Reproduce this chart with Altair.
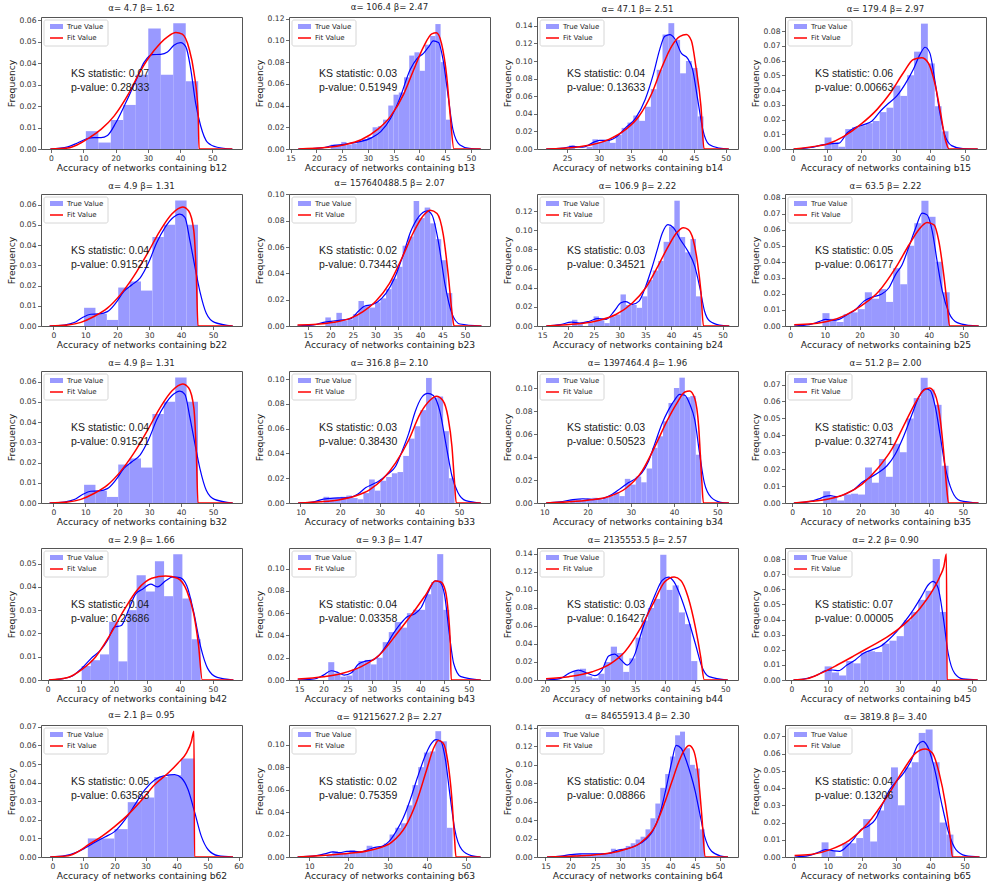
import altair as alt
import pandas as pd

HIST_COLOR = "#9999ff"
KDE_COLOR = "#0000ff"
FIT_COLOR = "#ff0000"

# ---------------------------------------------------------------------------
# Per-feature data: histogram (first bin edge, bin width, bar heights),
# kernel-density curve and fitted-distribution curve as (x, density) points.
# ---------------------------------------------------------------------------
B12_BINS = (10.8, 3.87)
B12_HIST = [0.0083, 0.0030, 0.0135, 0.0205, 0.0345, 0.0560, 0.0345, 0.0585, 0.0315]
B12_KDE = [(-0.2, 0), (5.2, 0.001), (8.2, 0.0028), (11.3, 0.0049), (13.4, 0.0053), (15.5, 0.0053),
           (17.5, 0.0063), (20.1, 0.0122), (23.2, 0.0216), (26.3, 0.0318), (28.9, 0.0404), (31.4, 0.0439),
           (34.0, 0.044), (36.1, 0.0451), (38.1, 0.0483), (40.2, 0.0495), (41.8, 0.0475), (43.3, 0.0373),
           (44.8, 0.0216), (46.4, 0.0107), (48.5, 0.0031), (51.5, 0.0008), (56.2, 0)]
B12_FIT = [(-0.2, 0), (5.2, 0.0005), (8.2, 0.002), (11.3, 0.0047), (15.5, 0.0091), (19.6, 0.0154),
           (23.7, 0.0248), (27.8, 0.0365), (32.0, 0.0459), (36.1, 0.0522), (38.7, 0.0542), (40.7, 0.0534),
           (42.8, 0.0467), (44.3, 0.0357), (45.6, 0.017), (45.9, 0), (56.2, 0)]

B13_BINS = (22.8, 1.015)
B13_HIST = [0.004, 0.004, 0.0065, 0.004, 0.005, 0.0065, 0.009, 0.011, 0.020, 0.021, 0.027, 0.040,
            0.050, 0.052, 0.066, 0.086, 0.089, 0.072, 0.096, 0.104, 0.115, 0.080, 0.027]
B13_KDE = [(16.5, 0), (21.1, 0.001), (23.0, 0.003), (24.9, 0.004), (26.8, 0.0055), (28.7, 0.007),
           (30.6, 0.010), (32.5, 0.016), (34.4, 0.028), (36.3, 0.048), (38.2, 0.073), (39.5, 0.083),
           (40.8, 0.088), (41.8, 0.094), (42.7, 0.0995), (43.7, 0.098), (44.6, 0.082), (45.6, 0.048),
           (46.5, 0.018), (47.8, 0.004), (49.7, 0.0006), (51.9, 0)]
B13_FIT = [(16.5, 0), (22.3, 0.0015), (25.5, 0.004), (28.7, 0.0085), (31.9, 0.018), (34.4, 0.030),
           (37.0, 0.051), (38.9, 0.073), (40.8, 0.094), (42.4, 0.106), (43.3, 0.107), (44.3, 0.097),
           (45.3, 0.067), (46.0, 0.030), (46.7, 0), (51.9, 0)]

B14_BINS = (25.3, 0.922)
B14_HIST = [0.004, 0.0, 0.0, 0.0025, 0.011, 0.008, 0.010, 0.007, 0.016, 0.024, 0.030, 0.038,
            0.032, 0.048, 0.068, 0.090, 0.130, 0.143, 0.124, 0.086, 0.100, 0.092, 0.037]
B14_KDE = [(21.7, 0), (24.4, 0.001), (25.9, 0.003), (27.5, 0.002), (29.0, 0.007), (30.1, 0.0099),
           (31.6, 0.0099), (32.9, 0.0144), (34.2, 0.024), (35.8, 0.035), (37.3, 0.056), (38.6, 0.085),
           (39.6, 0.113), (40.4, 0.128), (41.2, 0.130), (42.0, 0.125), (43.0, 0.109), (44.0, 0.103),
           (44.8, 0.090), (45.6, 0.056), (46.4, 0.022), (47.4, 0.005), (49.0, 0.001), (50.5, 0)]
B14_FIT = [(21.7, 0), (26.4, 0.002), (29.0, 0.005), (31.6, 0.011), (34.2, 0.022), (36.3, 0.037),
           (38.4, 0.064), (39.9, 0.092), (41.5, 0.117), (42.8, 0.128), (43.8, 0.130), (44.6, 0.123),
           (45.3, 0.094), (46.1, 0.049), (46.6, 0), (50.5, 0)]

B15_BINS = (9.3, 2.0)
B15_HIST = [0.0078, 0.0045, 0.0015, 0.0135, 0.0148, 0.016, 0.0175, 0.019, 0.025, 0.028, 0.043,
            0.036, 0.050, 0.066, 0.085, 0.058, 0.029, 0.012]
B15_KDE = [(0.3, 0), (5.3, 0.001), (9.1, 0.003), (11.5, 0.0036), (13.5, 0.004), (15.9, 0.011),
           (18.3, 0.0147), (20.7, 0.0165), (23.1, 0.019), (25.5, 0.0256), (27.9, 0.031), (30.3, 0.036),
           (32.7, 0.044), (35.1, 0.054), (37.0, 0.064), (38.5, 0.069), (39.9, 0.065), (41.3, 0.047),
           (42.8, 0.0245), (44.2, 0.0097), (46.2, 0.0023), (49.5, 0.0002), (53.8, 0)]
B15_FIT = [(0.3, 0), (5.3, 0.0014), (10.1, 0.0034), (14.9, 0.0086), (19.7, 0.0165), (24.5, 0.0267),
           (28.4, 0.038), (32.2, 0.0517), (35.1, 0.0607), (37.5, 0.0619), (39.4, 0.0585), (41.3, 0.0449),
           (43.0, 0.0245), (44.4, 0.0063), (45.5, 0), (53.8, 0)]

B22_BINS = (9.6, 3.57)
B22_HIST = [0.009, 0.006, 0.003, 0.019, 0.022, 0.0175, 0.044, 0.050, 0.062, 0.050]
B22_KDE = [(-1.2, 0), (3.4, 0.0005), (6.5, 0.0017), (9.1, 0.0042), (11.7, 0.0058), (14.3, 0.006),
           (16.9, 0.0071), (19.5, 0.0113), (22.1, 0.0171), (24.6, 0.0204), (27.2, 0.0238), (29.8, 0.0312),
           (32.4, 0.0412), (35.0, 0.0487), (37.6, 0.0537), (39.6, 0.0553), (41.2, 0.0537), (42.8, 0.042),
           (44.3, 0.0296), (45.9, 0.0171), (47.9, 0.0063), (50.5, 0.0018), (56.2, 0)]
B22_FIT = [(-1.2, 0), (4.5, 0.0005), (8.6, 0.0018), (12.7, 0.0047), (16.9, 0.0088), (21.0, 0.0155),
           (25.2, 0.0246), (29.3, 0.0354), (33.4, 0.047), (37.1, 0.0553), (39.1, 0.058), (40.5, 0.0588),
           (42.4, 0.0568), (44.0, 0.047), (44.8, 0.024), (45.3, 0), (56.2, 0)]

B23_BINS = (18.9, 1.23)
B23_HIST = [0.0065, 0.003, 0.010, 0.004, 0.005, 0.009, 0.019, 0.015, 0.014, 0.018, 0.021, 0.028,
            0.036, 0.045, 0.061, 0.068, 0.095, 0.082, 0.090, 0.078, 0.066, 0.050, 0.025]
B23_KDE = [(12.7, 0), (16.3, 0.0008), (18.5, 0.0028), (20.7, 0.0038), (22.9, 0.0046), (24.7, 0.0058),
           (26.2, 0.011), (27.7, 0.0152), (29.1, 0.016), (30.6, 0.0185), (32.4, 0.0248), (34.3, 0.0362),
           (36.1, 0.0526), (37.9, 0.0716), (39.7, 0.083), (41.6, 0.0875), (42.7, 0.0842), (44.1, 0.064),
           (45.6, 0.031), (47.1, 0.0096), (48.9, 0.0015), (53.7, 0)]
B23_FIT = [(12.7, 0.0008), (17.0, 0.0013), (20.7, 0.0028), (24.4, 0.0058), (27.3, 0.011), (30.2, 0.019),
           (33.2, 0.0324), (36.1, 0.0526), (38.6, 0.0716), (40.8, 0.0842), (42.3, 0.088), (43.8, 0.0855),
           (45.2, 0.069), (46.3, 0.0387), (47.2, 0.0083), (47.6, 0), (53.7, 0)]

B24_BINS = (20.8, 1.045)
B24_HIST = [0.0065, 0.002, 0.0, 0.003, 0.010, 0.006, 0.003, 0.010, 0.012, 0.033, 0.022, 0.022,
            0.019, 0.031, 0.048, 0.058, 0.068, 0.088, 0.104, 0.131, 0.093, 0.077, 0.091, 0.031]
B24_KDE = [(15.8, 0), (18.5, 0.0014), (20.7, 0.004), (22.3, 0.003), (24.2, 0.005), (25.8, 0.0077),
           (27.4, 0.007), (29.0, 0.0157), (30.3, 0.0243), (31.2, 0.0254), (32.5, 0.0226), (33.8, 0.026),
           (35.1, 0.0417), (36.3, 0.0609), (37.3, 0.079), (38.3, 0.097), (39.4, 0.106), (40.5, 0.1026),
           (41.8, 0.0904), (43.3, 0.078), (44.6, 0.0626), (45.6, 0.040), (46.5, 0.0157), (47.5, 0.0052),
           (49.4, 0.001), (51.3, 0)]
B24_FIT = [(15.8, 0), (19.8, 0.0014), (23.0, 0.0028), (26.1, 0.006), (29.3, 0.012), (32.5, 0.024),
           (35.1, 0.040), (37.6, 0.064), (39.5, 0.0835), (41.1, 0.0974), (42.4, 0.1026), (43.3, 0.101),
           (44.3, 0.0904), (45.1, 0.0678), (45.8, 0.0365), (46.3, 0), (51.3, 0)]

B25_BINS = (9.3, 2.04)
B25_HIST = [0.008, 0.0045, 0.0025, 0.0075, 0.0085, 0.0105, 0.021, 0.017, 0.023, 0.015, 0.036,
            0.026, 0.050, 0.064, 0.078, 0.068, 0.040, 0.021]
B25_KDE = [(1.15, 0), (5.5, 0.0008), (8.3, 0.0027), (10.3, 0.0041), (12.2, 0.0035), (14.1, 0.0041),
           (16.5, 0.0072), (18.9, 0.0103), (21.3, 0.0155), (23.7, 0.018), (26.1, 0.0196), (28.5, 0.0238),
           (30.4, 0.032), (32.3, 0.0382), (34.3, 0.0496), (36.2, 0.061), (38.1, 0.0703), (39.5, 0.0692),
           (41.0, 0.0589), (42.4, 0.0403), (43.9, 0.0217), (45.8, 0.0083), (48.2, 0.0021), (51.5, 0.0004),
           (54.4, 0)]
B25_FIT = [(1.15, 0.0008), (6.4, 0.0014), (11.2, 0.0031), (16.0, 0.0068), (20.8, 0.013), (25.6, 0.0217),
           (30.4, 0.0362), (34.3, 0.0506), (37.1, 0.06), (39.5, 0.0645), (41.5, 0.063), (42.9, 0.0527),
           (44.3, 0.032), (45.3, 0.0134), (46.0, 0), (54.4, 0)]

# b32 carries the same sample as b22
B32_BINS = B22_BINS
B32_HIST = list(B22_HIST)
B32_KDE = list(B22_KDE)
B32_FIT = list(B22_FIT)

B33_BINS = (15.8, 1.437)
B33_HIST = [0.005, 0.004, 0.004, 0.005, 0.006, 0.004, 0.003, 0.008, 0.019, 0.010, 0.018, 0.021,
            0.024, 0.025, 0.038, 0.052, 0.062, 0.075, 0.101, 0.085, 0.086, 0.058, 0.020]
B33_KDE = [(9.4, 0), (13.3, 0.001), (15.8, 0.0032), (18.3, 0.004), (20.7, 0.0042), (22.8, 0.0048),
           (24.5, 0.0072), (26.5, 0.0125), (28.2, 0.0151), (29.8, 0.0178), (31.9, 0.023), (34.0, 0.0297),
           (35.6, 0.0417), (37.3, 0.0562), (38.9, 0.0735), (40.6, 0.0854), (42.1, 0.0886), (43.5, 0.0868),
           (45.1, 0.0748), (46.8, 0.0456), (48.2, 0.0218), (49.7, 0.0085), (51.7, 0.0019), (55.5, 0)]
B33_FIT = [(9.4, 0), (15.0, 0.001), (19.9, 0.0027), (24.0, 0.0058), (27.4, 0.0106), (30.7, 0.0191),
           (34.0, 0.0324), (37.3, 0.0509), (40.2, 0.0722), (42.6, 0.0828), (44.3, 0.0862), (45.9, 0.0828),
           (47.2, 0.0695), (48.2, 0.0456), (48.8, 0.019), (49.3, 0), (55.5, 0)]

B34_BINS = (16.0, 1.262)
B34_HIST = [0.003, 0.0035, 0.003, 0.004, 0.0045, 0.003, 0.0045, 0.006, 0.0095, 0.006, 0.021, 0.016,
            0.023, 0.018, 0.030, 0.048, 0.058, 0.071, 0.087, 0.100, 0.109, 0.092, 0.093, 0.042]
B34_KDE = [(10.4, 0), (13.6, 0.001), (16.6, 0.003), (18.9, 0.0037), (21.2, 0.003), (23.5, 0.004),
           (25.7, 0.0077), (27.6, 0.0126), (29.5, 0.0178), (31.1, 0.0212), (32.6, 0.0264), (34.1, 0.0364),
           (35.6, 0.0521), (37.1, 0.0679), (38.7, 0.0808), (40.2, 0.090), (41.3, 0.0945), (42.5, 0.0937),
           (43.6, 0.0865), (44.8, 0.0722), (45.9, 0.0435), (47.0, 0.0178), (48.6, 0.0049), (50.8, 0.0006),
           (52.7, 0)]
B34_FIT = [(10.4, 0), (15.9, 0.001), (20.4, 0.0026), (25.0, 0.0057), (28.8, 0.0126), (32.6, 0.0278),
           (35.6, 0.0493), (38.3, 0.0708), (40.6, 0.0865), (42.5, 0.0965), (43.6, 0.0974), (44.8, 0.0908),
           (45.7, 0.0665), (46.4, 0.0206), (46.8, 0), (52.7, 0)]

B35_BINS = (9.1, 2.04)
B35_HIST = [0.007, 0.0035, 0.0015, 0.005, 0.0055, 0.005, 0.021, 0.012, 0.026, 0.0155, 0.035, 0.030,
            0.050, 0.062, 0.074, 0.067, 0.058, 0.022]
B35_KDE = [(0.5, 0), (4.9, 0.0008), (7.8, 0.0024), (9.7, 0.0039), (11.2, 0.0043), (13.2, 0.0037),
           (15.6, 0.0053), (18.0, 0.0078), (20.5, 0.0122), (22.9, 0.0151), (25.3, 0.018), (27.8, 0.022),
           (30.2, 0.0288), (32.7, 0.0396), (35.1, 0.0523), (37.0, 0.0621), (39.0, 0.0674), (40.4, 0.0666),
           (41.9, 0.0572), (43.4, 0.0396), (44.8, 0.022), (46.8, 0.0073), (49.2, 0.0014), (54.6, 0)]
B35_FIT = [(0.5, 0), (5.8, 0.001), (10.7, 0.0024), (15.6, 0.0053), (20.5, 0.0112), (25.3, 0.021),
           (29.2, 0.0318), (33.1, 0.0474), (36.1, 0.0592), (38.5, 0.0666), (40.3, 0.068), (41.9, 0.0641),
           (43.4, 0.0494), (44.5, 0.0278), (45.4, 0.0063), (45.8, 0), (54.6, 0)]

B42_BINS = (10.3, 2.77)
B42_HIST = [0.006, 0.0085, 0.011, 0.025, 0.008, 0.030, 0.045, 0.038, 0.051, 0.036, 0.054, 0.035, 0.0175]
B42_KDE = [(0.4, 0), (4.7, 0.0006), (7.5, 0.0017), (10.3, 0.005), (13.1, 0.0092), (16.0, 0.0128),
           (18.1, 0.017), (20.2, 0.0227), (22.3, 0.0234), (24.4, 0.0298), (26.6, 0.0369), (28.7, 0.039),
           (31.2, 0.0412), (33.2, 0.040), (35.7, 0.0426), (37.9, 0.0443), (40.0, 0.044), (42.1, 0.0405),
           (44.2, 0.0291), (46.3, 0.0142), (48.4, 0.005), (51.3, 0.0011), (56.2, 0)]
B42_FIT = [(0.4, 0), (6.1, 0.0011), (10.3, 0.0045), (14.5, 0.0099), (18.8, 0.0192), (23.0, 0.0298),
           (27.3, 0.039), (31.5, 0.0437), (35.7, 0.0447), (39.3, 0.0437), (42.1, 0.0383), (44.2, 0.0284),
           (45.6, 0.0156), (46.8, 0), (56.2, 0)]

B43_BINS = (21.0, 1.25)
B43_HIST = [0.016, 0.006, 0.003, 0.004, 0.010, 0.017, 0.018, 0.014, 0.020, 0.034, 0.043, 0.052,
            0.047, 0.060, 0.063, 0.063, 0.077, 0.088, 0.113, 0.063]
B43_KDE = [(14.7, 0), (18.1, 0.0009), (20.0, 0.0044), (21.6, 0.0083), (23.1, 0.0065), (24.3, 0.0044),
           (25.8, 0.0065), (27.2, 0.0142), (28.7, 0.0169), (30.1, 0.0178), (31.5, 0.0222), (33.0, 0.0311),
           (34.4, 0.0414), (35.9, 0.0503), (37.3, 0.0568), (38.8, 0.0592), (40.2, 0.0651), (41.6, 0.0784),
           (43.1, 0.089), (44.0, 0.088), (45.0, 0.0769), (46.0, 0.0414), (46.9, 0.0148), (48.4, 0.003),
           (52.5, 0)]
B43_FIT = [(14.7, 0.0009), (20.0, 0.003), (23.8, 0.0059), (27.7, 0.0118), (31.5, 0.0222), (35.4, 0.0429),
           (38.3, 0.0592), (41.2, 0.0769), (43.1, 0.0888), (44.2, 0.0882), (45.2, 0.0799), (45.8, 0.0592),
           (46.2, 0.0325), (46.4, 0), (52.5, 0)]

B44_BINS = (24.8, 1.027)
B44_HIST = [0.010, 0.0125, 0.004, 0.002, 0.007, 0.020, 0.037, 0.030, 0.009, 0.024, 0.047, 0.066,
            0.080, 0.090, 0.139, 0.100, 0.105, 0.075, 0.062, 0.021]
B44_KDE = [(20.2, 0), (22.5, 0.0015), (24.0, 0.0074), (25.6, 0.011), (27.1, 0.0074), (28.3, 0.0048),
           (29.5, 0.011), (30.6, 0.0265), (31.6, 0.0287), (32.7, 0.0221), (33.7, 0.0166), (34.9, 0.0276),
           (36.0, 0.0516), (37.2, 0.0755), (38.4, 0.0958), (39.5, 0.1105), (40.5, 0.1142), (41.5, 0.1087),
           (42.6, 0.0921), (43.8, 0.0682), (45.0, 0.0405), (46.1, 0.0147), (47.3, 0.0037), (50.4, 0)]
B44_FIT = [(20.2, 0.0015), (24.0, 0.0037), (27.9, 0.0092), (31.0, 0.0184), (33.3, 0.0313), (35.7, 0.0553),
           (38.0, 0.0847), (39.9, 0.1087), (41.5, 0.1142), (42.6, 0.1105), (43.8, 0.0921), (45.0, 0.059),
           (45.9, 0.0258), (46.5, 0), (50.4, 0)]

B45_BINS = (9.2, 2.0)
B45_HIST = [0.009, 0.005, 0.003, 0.0125, 0.011, 0.018, 0.019, 0.0185, 0.024, 0.026, 0.029, 0.0395,
            0.045, 0.053, 0.059, 0.080, 0.045]
B45_KDE = [(0.55, 0), (4.4, 0.0011), (7.2, 0.0033), (9.5, 0.0062), (11.3, 0.0066), (13.1, 0.0062),
           (15.4, 0.0099), (17.7, 0.0133), (20.0, 0.0177), (22.3, 0.0199), (24.6, 0.0221), (26.9, 0.0265),
           (29.2, 0.032), (31.5, 0.0387), (33.8, 0.0464), (36.1, 0.0553), (38.0, 0.063), (39.3, 0.0652),
           (40.7, 0.0608), (42.1, 0.042), (43.5, 0.0177), (45.3, 0.0044), (47.6, 0.0007), (51.7, 0)]
B45_FIT = [(0.55, 0), (4.4, 0.0009), (8.1, 0.0044), (12.7, 0.0099), (17.3, 0.0159), (21.9, 0.0221),
           (26.5, 0.0283), (31.1, 0.0365), (35.7, 0.0475), (39.3, 0.0597), (41.2, 0.0685), (42.3, 0.0751),
           (43.0, 0.0833), (43.2, 0), (51.7, 0)]

B62_BINS = (11.4, 4.29)
B62_HIST = [0.010, 0.010, 0.015, 0.0295, 0.032, 0.043, 0.044, 0.053]
B62_KDE = [(-0.75, 0), (4.1, 0.0007), (7.3, 0.0022), (10.5, 0.0048), (13.7, 0.0079), (16.9, 0.0108),
           (20.1, 0.0138), (23.4, 0.0201), (26.6, 0.0282), (29.8, 0.0363), (33.0, 0.0416), (36.2, 0.0438),
           (39.4, 0.0443), (41.6, 0.0425), (43.7, 0.0363), (45.9, 0.0237), (48.0, 0.0111), (50.2, 0.0039),
           (53.4, 0.0007), (58.2, 0)]
B62_FIT = [(-0.75, 0), (5.1, 0.0007), (8.4, 0.003), (11.6, 0.0066), (15.9, 0.0111), (20.1, 0.0165),
           (24.4, 0.0228), (28.7, 0.0305), (33.0, 0.039), (37.3, 0.0452), (40.5, 0.0506), (43.2, 0.056),
           (44.8, 0.0623), (45.6, 0.0677), (45.8, 0), (58.2, 0)]

B63_BINS = (14.4, 1.465)
B63_HIST = [0.002, 0.005, 0.004, 0.003, 0.006, 0.005, 0.005, 0.010, 0.007, 0.009, 0.012, 0.020,
            0.026, 0.030, 0.046, 0.064, 0.080, 0.093, 0.094, 0.112, 0.103, 0.026]
B63_KDE = [(7.0, 0), (11.8, 0.0012), (14.2, 0.003), (16.0, 0.0045), (17.8, 0.0039), (19.6, 0.005),
           (21.4, 0.005), (23.2, 0.0045), (25.0, 0.0065), (26.8, 0.0086), (28.6, 0.0095), (30.4, 0.0139),
           (32.2, 0.0228), (34.0, 0.0347), (35.8, 0.051), (37.6, 0.0703), (39.4, 0.0881), (41.0, 0.100),
           (42.4, 0.1044), (43.6, 0.103), (44.8, 0.0866), (46.0, 0.054), (47.2, 0.0243), (49.0, 0.0065),
           (51.4, 0.0012), (53.8, 0)]
B63_FIT = [(7.0, 0), (14.2, 0.0015), (20.2, 0.0033), (26.2, 0.0065), (31.0, 0.013), (34.6, 0.0273),
           (37.6, 0.051), (40.0, 0.0777), (41.8, 0.097), (43.0, 0.1038), (44.2, 0.1015), (45.4, 0.0852),
           (46.4, 0.054), (47.1, 0.0184), (47.5, 0), (53.8, 0)]

B64_BINS = (20.2, 0.99)
B64_HIST = [0.003, 0.003, 0.002, 0.002, 0.003, 0.002, 0.004, 0.003, 0.009, 0.007, 0.009, 0.012,
            0.015, 0.019, 0.022, 0.030, 0.042, 0.058, 0.075, 0.090, 0.109, 0.132, 0.136, 0.118,
            0.100, 0.096, 0.030]
B64_KDE = [(15.3, 0), (18.1, 0.001), (20.0, 0.0025), (21.9, 0.0033), (24.7, 0.0033), (27.5, 0.0036),
           (29.4, 0.0073), (31.3, 0.0088), (33.2, 0.0124), (35.1, 0.019), (36.5, 0.0281), (37.9, 0.0463),
           (39.3, 0.0773), (40.3, 0.1028), (41.2, 0.121), (42.2, 0.118), (43.1, 0.1065), (44.1, 0.090),
           (45.0, 0.0718), (45.9, 0.0481), (46.9, 0.0226), (48.3, 0.0062), (50.2, 0.001), (51.6, 0)]
B64_FIT = [(15.3, 0), (20.9, 0.001), (25.7, 0.0026), (30.4, 0.0073), (34.2, 0.016), (37.0, 0.0335),
           (38.9, 0.059), (40.3, 0.081), (41.7, 0.1028), (42.8, 0.1156), (43.8, 0.121), (44.7, 0.1156),
           (45.7, 0.0846), (46.4, 0.0408), (47.0, 0), (51.6, 0)]

B65_BINS = (8.2, 2.03)
B65_HIST = [0.0085, 0.0035, 0.0005, 0.008, 0.008, 0.011, 0.022, 0.009, 0.027, 0.036, 0.052, 0.030,
            0.052, 0.055, 0.072, 0.074, 0.055, 0.020, 0.013]
B65_KDE = [(0.3, 0), (4.4, 0.0008), (7.2, 0.0027), (9.3, 0.0043), (11.4, 0.0037), (13.5, 0.0033),
           (15.6, 0.0062), (17.6, 0.0104), (19.7, 0.0159), (21.8, 0.0178), (23.9, 0.0217), (26.0, 0.0304),
           (28.1, 0.039), (30.1, 0.0439), (32.2, 0.0487), (34.3, 0.0555), (36.4, 0.0652), (37.8, 0.0671),
           (39.2, 0.0642), (41.3, 0.0507), (43.3, 0.0313), (45.4, 0.0139), (47.5, 0.0043), (50.3, 0.0008),
           (54.4, 0)]
B65_FIT = [(0.3, 0.0008), (5.1, 0.0014), (10.7, 0.0043), (16.3, 0.0097), (21.8, 0.0197), (27.4, 0.0352),
           (32.2, 0.0507), (35.7, 0.0603), (38.5, 0.0627), (40.6, 0.0603), (42.6, 0.0487), (44.4, 0.0313),
           (45.8, 0.012), (46.5, 0), (54.4, 0)]

# Fitted parameters and goodness-of-fit per feature
ALPHA_BETA = {
    "b12": "α= 4.7 β= 1.62", "b13": "α= 106.4 β= 2.47", "b14": "α= 47.1 β= 2.51", "b15": "α= 179.4 β= 2.97",
    "b22": "α= 4.9 β= 1.31", "b23": "α= 157640488.5 β= 2.07", "b24": "α= 106.9 β= 2.22", "b25": "α= 63.5 β= 2.22",
    "b32": "α= 4.9 β= 1.31", "b33": "α= 316.8 β= 2.10", "b34": "α= 1397464.4 β= 1.96", "b35": "α= 51.2 β= 2.00",
    "b42": "α= 2.9 β= 1.66", "b43": "α= 9.3 β= 1.47", "b44": "α= 2135553.5 β= 2.57", "b45": "α= 2.2 β= 0.90",
    "b62": "α= 2.1 β= 0.95", "b63": "α= 91215627.2 β= 2.27", "b64": "α= 84655913.4 β= 2.30", "b65": "α= 3819.8 β= 3.40",
}
KS_STAT = {
    "b12": "0.07", "b13": "0.03", "b14": "0.04", "b15": "0.06",
    "b22": "0.04", "b23": "0.02", "b24": "0.03", "b25": "0.05",
    "b32": "0.04", "b33": "0.03", "b34": "0.03", "b35": "0.03",
    "b42": "0.04", "b43": "0.04", "b44": "0.03", "b45": "0.07",
    "b62": "0.05", "b63": "0.02", "b64": "0.04", "b65": "0.04",
}
P_VALUE = {
    "b12": "0.28033", "b13": "0.51949", "b14": "0.13633", "b15": "0.00663",
    "b22": "0.91521", "b23": "0.73443", "b24": "0.34521", "b25": "0.06177",
    "b32": "0.91521", "b33": "0.38430", "b34": "0.50523", "b35": "0.32741",
    "b42": "0.23686", "b43": "0.03358", "b44": "0.16427", "b45": "0.00005",
    "b62": "0.63583", "b63": "0.75359", "b64": "0.08866", "b65": "0.13206",
}

# Axis ranges: x domain, x ticks (first, last, step), y top, y tick step
AXES = {
    "b12": ((-3.1, 59.2), (0, 50, 10), 0.0614, 0.01),
    "b13": ((14.7, 53.7), (15, 50, 5), 0.1215, 0.02),
    "b14": ((20.25, 51.95), (25, 50, 5), 0.150, 0.02),
    "b15": ((-2.2, 56.2), (0, 50, 10), 0.0895, 0.01),
    "b22": ((-3.9, 59.1), (0, 50, 10), 0.0652, 0.01),
    "b23": ((10.8, 55.6), (15, 50, 5), 0.1003, 0.02),
    "b24": ((14.0, 53.0), (15, 50, 5), 0.138, 0.02),
    "b25": ((-1.5, 56.5), (0, 50, 10), 0.0822, 0.01),
    "b32": ((-3.9, 59.1), (0, 50, 10), 0.0652, 0.01),
    "b33": ((7.1, 57.8), (10, 50, 10), 0.1066, 0.02),
    "b34": ((8.3, 54.8), (10, 50, 10), 0.1148, 0.02),
    "b35": ((-2.1, 56.8), (0, 50, 10), 0.0780, 0.01),
    "b42": ((-2.0, 58.8), (0, 50, 10), 0.0567, 0.01),
    "b43": ((12.9, 54.4), (15, 50, 5), 0.1185, 0.02),
    "b44": ((18.7, 52.1), (20, 50, 5), 0.1465, 0.02),
    "b45": ((-1.8, 54.0), (0, 50, 10), 0.0873, 0.01),
    "b62": ((-3.7, 61.1), (0, 60, 10), 0.0710, 0.01),
    "b63": ((4.8, 56.2), (10, 50, 10), 0.1175, 0.02),
    "b64": ((13.3, 53.6), (15, 50, 5), 0.1432, 0.02),
    "b65": ((-2.5, 56.3), (0, 50, 10), 0.0766, 0.01),
}

DATA = {
    "b12": (B12_BINS, B12_HIST, B12_KDE, B12_FIT), "b13": (B13_BINS, B13_HIST, B13_KDE, B13_FIT),
    "b14": (B14_BINS, B14_HIST, B14_KDE, B14_FIT), "b15": (B15_BINS, B15_HIST, B15_KDE, B15_FIT),
    "b22": (B22_BINS, B22_HIST, B22_KDE, B22_FIT), "b23": (B23_BINS, B23_HIST, B23_KDE, B23_FIT),
    "b24": (B24_BINS, B24_HIST, B24_KDE, B24_FIT), "b25": (B25_BINS, B25_HIST, B25_KDE, B25_FIT),
    "b32": (B32_BINS, B32_HIST, B32_KDE, B32_FIT), "b33": (B33_BINS, B33_HIST, B33_KDE, B33_FIT),
    "b34": (B34_BINS, B34_HIST, B34_KDE, B34_FIT), "b35": (B35_BINS, B35_HIST, B35_KDE, B35_FIT),
    "b42": (B42_BINS, B42_HIST, B42_KDE, B42_FIT), "b43": (B43_BINS, B43_HIST, B43_KDE, B43_FIT),
    "b44": (B44_BINS, B44_HIST, B44_KDE, B44_FIT), "b45": (B45_BINS, B45_HIST, B45_KDE, B45_FIT),
    "b62": (B62_BINS, B62_HIST, B62_KDE, B62_FIT), "b63": (B63_BINS, B63_HIST, B63_KDE, B63_FIT),
    "b64": (B64_BINS, B64_HIST, B64_KDE, B64_FIT), "b65": (B65_BINS, B65_HIST, B65_KDE, B65_FIT),
}

ORDER = ["b12", "b13", "b14", "b15",
         "b22", "b23", "b24", "b25",
         "b32", "b33", "b34", "b35",
         "b42", "b43", "b44", "b45",
         "b62", "b63", "b64", "b65"]

PANEL_W, PANEL_H = 201, 132
FONT = "DejaVu Sans"
ONE = pd.DataFrame({"k": [0]})


def panel(name):
    (lo, width), heights, kde, fit = DATA[name]
    xdom, (t0, t1, tstep), ytop, ystep = AXES[name]

    bars = pd.DataFrame({
        "x0": [lo + i * width for i in range(len(heights))],
        "x1": [lo + (i + 1) * width for i in range(len(heights))],
        "h": heights,
        "base": [0.0] * len(heights),
    })
    kde_df = pd.DataFrame(kde, columns=["x", "y"])
    fit_df = pd.DataFrame(fit, columns=["x", "y"])

    xticks = list(range(t0, t1 + 1, tstep))
    n_y = int(ytop / ystep + 1e-9)
    yticks = [round(i * ystep, 2) for i in range(n_y + 1)]

    xs = alt.Scale(domain=list(xdom), nice=False, zero=False)
    ys = alt.Scale(domain=[0, ytop], nice=False, zero=False)
    xa = alt.Axis(values=xticks, format="d", title=f"Accuracy of networks containing {name}")
    ya = alt.Axis(values=yticks, format=".2f", title="Frequency")

    hist = alt.Chart(bars).mark_rect(color=HIST_COLOR, clip=True).encode(
        x=alt.X("x0:Q", scale=xs, axis=xa), x2="x1:Q",
        y=alt.Y("h:Q", scale=ys, axis=ya), y2="base:Q")
    kde_line = alt.Chart(kde_df).mark_line(color=KDE_COLOR, strokeWidth=1.2,
                                           interpolate="monotone", clip=True).encode(
        x=alt.X("x:Q", scale=xs, axis=xa), y=alt.Y("y:Q", scale=ys, axis=ya))
    fit_line = alt.Chart(fit_df).mark_line(color=FIT_COLOR, strokeWidth=1.5,
                                           interpolate="monotone", clip=True).encode(
        x=alt.X("x:Q", scale=xs, axis=xa), y=alt.Y("y:Q", scale=ys, axis=ya))

    ks_txt = alt.Chart(ONE).mark_text(
        text=f"KS statistic: {KS_STAT[name]}", align="left", baseline="middle",
        font="Liberation Sans", fontSize=10.5, color="#1a1a1a").encode(
        x=alt.value(30), y=alt.value(57))
    p_txt = alt.Chart(ONE).mark_text(
        text=f"p-value: {P_VALUE[name]}", align="left", baseline="middle",
        font="Liberation Sans", fontSize=10.5, color="#1a1a1a").encode(
        x=alt.value(30), y=alt.value(71))

    # legend box in the upper-left corner of the axes
    leg_box = alt.Chart(ONE).mark_rect(fill="white", fillOpacity=0.8, stroke="#cccccc",
                                       strokeWidth=0.8, cornerRadius=2).encode(
        x=alt.value(3), x2=alt.value(67), y=alt.value(3), y2=alt.value(29))
    leg_patch = alt.Chart(ONE).mark_rect(fill=HIST_COLOR).encode(
        x=alt.value(9), x2=alt.value(22), y=alt.value(7), y2=alt.value(12))
    leg_line = alt.Chart(ONE).mark_rule(color=FIT_COLOR, strokeWidth=1.5).encode(
        x=alt.value(9), x2=alt.value(22), y=alt.value(21))
    leg_t1 = alt.Chart(ONE).mark_text(text="True Value", align="left", baseline="middle",
                                      font=FONT, fontSize=7, color="#262626").encode(
        x=alt.value(26), y=alt.value(9.5))
    leg_t2 = alt.Chart(ONE).mark_text(text="Fit Value", align="left", baseline="middle",
                                      font=FONT, fontSize=7, color="#262626").encode(
        x=alt.value(26), y=alt.value(21))

    return alt.layer(hist, kde_line, fit_line, ks_txt, p_txt,
                     leg_box, leg_patch, leg_line, leg_t1, leg_t2).properties(
        width=PANEL_W, height=PANEL_H,
        title=alt.TitleParams(text=ALPHA_BETA[name], fontSize=8.6, font=FONT,
                              fontWeight="normal", color="#262626", offset=3, anchor="middle"))


chart = alt.concat(*[panel(n) for n in ORDER], columns=4,
                   spacing={"row": 45, "column": 47}, bounds="flush").properties(
    padding={"left": 6, "top": 2, "right": 0, "bottom": 0},
    background="white",
).configure_view(
    stroke="#555555", strokeWidth=1,
).configure_axis(
    grid=False, domain=False,
    tickSize=3.5, tickColor="#444444", tickWidth=0.8,
    labelFont=FONT, labelFontSize=7.6, labelColor="#333333", labelPadding=1.5,
    labelFlush=False, labelOverlap=False,
    titleFont=FONT, titleFontSize=9.2, titleFontWeight="normal", titleColor="#222222",
).configure_axisX(titlePadding=2).configure_axisY(titlePadding=3)

chart.save("out.html", embed_options={"renderer": "svg", "actions": False})
